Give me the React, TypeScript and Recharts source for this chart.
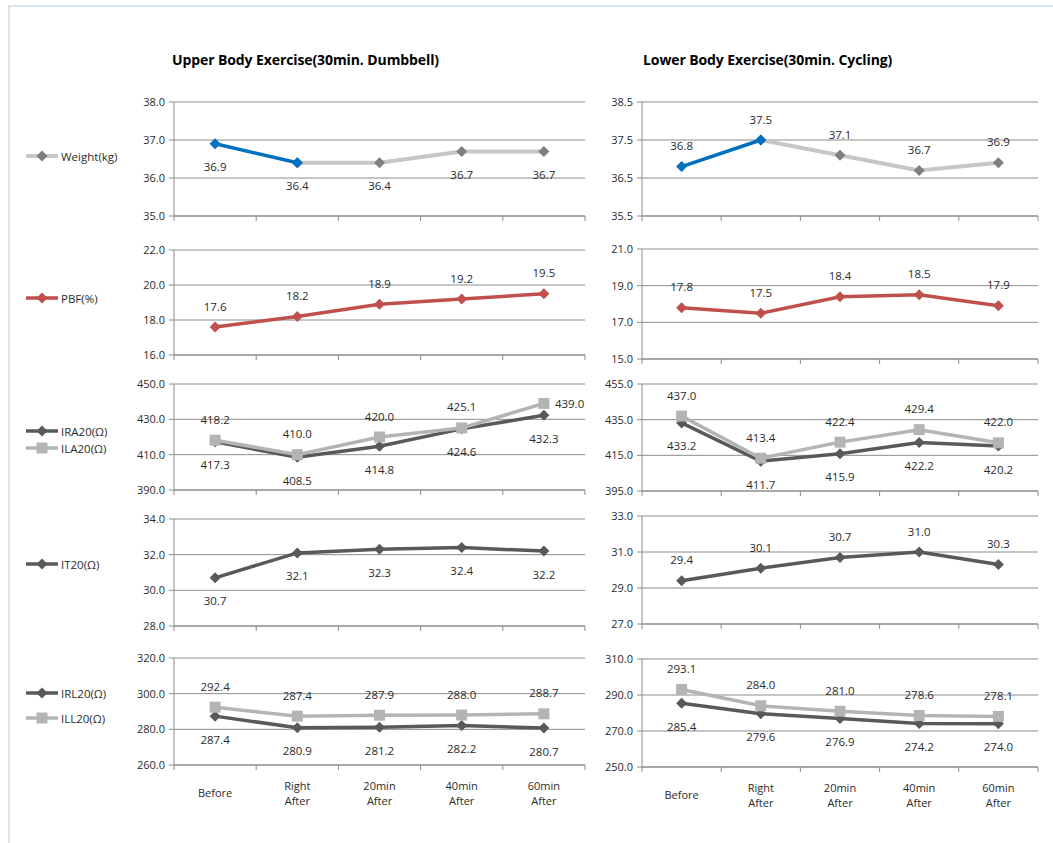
import { CartesianGrid, LabelList, Line, LineChart, XAxis, YAxis } from 'recharts';

const categories = ['Before', 'Right After', '20min After', '40min After', '60min After'];

// Upper body exercise (30 min. dumbbell)
const weightUpper = [36.9, 36.4, 36.4, 36.7, 36.7];
const pbfUpper = [17.6, 18.2, 18.9, 19.2, 19.5];
const ira20Upper = [417.3, 408.5, 414.8, 424.6, 432.3];
const ila20Upper = [418.2, 410.0, 420.0, 425.1, 439.0];
const it20Upper = [30.7, 32.1, 32.3, 32.4, 32.2];
const irl20Upper = [287.4, 280.9, 281.2, 282.2, 280.7];
const ill20Upper = [292.4, 287.4, 287.9, 288.0, 288.7];

// Lower body exercise (30 min. cycling)
const weightLower = [36.8, 37.5, 37.1, 36.7, 36.9];
const pbfLower = [17.8, 17.5, 18.4, 18.5, 17.9];
const ira20Lower = [433.2, 411.7, 415.9, 422.2, 420.2];
const ila20Lower = [437.0, 413.4, 422.4, 429.4, 422.0];
const it20Lower = [29.4, 30.1, 30.7, 31.0, 30.3];
const irl20Lower = [285.4, 279.6, 276.9, 274.2, 274.0];
const ill20Lower = [293.1, 284.0, 281.0, 278.6, 278.1];

// y-axis ticks per row
const weightTicksUpper = [35, 36, 37, 38];
const pbfTicksUpper = [16, 18, 20, 22];
const armTicksUpper = [390, 410, 430, 450];
const trunkTicksUpper = [28, 30, 32, 34];
const legTicksUpper = [260, 280, 300, 320];
const weightTicksLower = [35.5, 36.5, 37.5, 38.5];
const pbfTicksLower = [15, 17, 19, 21];
const armTicksLower = [395, 415, 435, 455];
const trunkTicksLower = [27, 29, 31, 33];
const legTicksLower = [250, 270, 290, 310];

const FONT = '"Open Sans", "Noto Sans", sans-serif';
const GRID = '#8c8c8c';
const TEXT = '#2b2b2b';

const BLUE = '#0070c0';
const RED = '#c0504d';
const DARK = '#595959';
const LIGHT = '#b4b4b4';
const WEIGHT_LINE = '#c6c6c6';
const WEIGHT_MARK = '#7f7f7f';

type Shape = 'diamond' | 'square';
type LabelPos = 'top' | 'bottom' | 'right' | null;

interface Series {
  values: (number | null)[];
  color: string;
  marker: string;
  shape: Shape;
  width: number;
  labels: LabelPos[];
}

const all = (p: LabelPos): LabelPos[] => categories.map(() => p);

const Marker = ({ cx, cy, shape, fill }: { cx: number; cy: number; shape: Shape; fill: string }) => {
  if (shape === 'square') {
    return <rect x={cx - 5.5} y={cy - 5.5} width={11} height={11} fill={fill} />;
  }
  const r = 5.5;
  return (
    <polygon
      points={`${cx},${cy - r} ${cx + r},${cy} ${cx},${cy + r} ${cx - r},${cy}`}
      fill={fill}
    />
  );
};

const Panel = ({
  left,
  top,
  width,
  height,
  ticks,
  series,
  showCategories,
}: {
  left: number;
  top: number;
  width: number;
  height: number;
  ticks: number[];
  series: Series[];
  showCategories?: boolean;
}) => {
  const axisW = 50;
  const mTop = 12;
  const xH = showCategories ? 50 : 8;
  // half a category band, so points sit between the boundary tick marks
  const half = width / categories.length / 2;
  const data = categories.map((c, i) => {
    const row: Record<string, string | number | null> = { name: c };
    series.forEach((s, k) => {
      row['s' + k] = s.values[i];
    });
    return row;
  });

  const renderTick = (p: any) => {
    const { x, y, index, payload } = p;
    const lines = String(payload.value).split(' ');
    return (
      <g key={`t-${index}`}>
        <line x1={x - half} y1={y} x2={x - half} y2={y + 5} stroke={GRID} />
        {index === categories.length - 1 && (
          <line x1={x + half} y1={y} x2={x + half} y2={y + 5} stroke={GRID} />
        )}
        {showCategories &&
          lines.map((t, k) => (
            <text
              key={k}
              x={x}
              y={y + (lines.length === 1 ? 27 : 20 + k * 15)}
              textAnchor='middle'
              dominantBaseline='central'
              fontSize={11}
              fontFamily={FONT}
              fill={TEXT}
            >
              {t}
            </text>
          ))}
      </g>
    );
  };

  const labelRenderer = (s: Series) => (p: any) => {
    const vb = p.viewBox || {};
    const x = p.x ?? vb.x;
    const y = p.y ?? vb.y;
    const pos = s.labels[p.index];
    if (p.value == null || pos == null || x == null || y == null) return null;
    let lx = x;
    let ly = y;
    let anchor: 'middle' | 'start' = 'middle';
    if (pos === 'top') ly = y - 21;
    if (pos === 'bottom') ly = y + 23;
    if (pos === 'right') {
      lx = x + 11;
      anchor = 'start';
    }
    return (
      <text
        key={`l-${p.index}`}
        x={lx}
        y={ly}
        textAnchor={anchor}
        dominantBaseline='central'
        fontSize={11.5}
        fontFamily={FONT}
        fill={TEXT}
      >
        {Number(p.value).toFixed(1)}
      </text>
    );
  };

  return (
    <div style={{ position: 'absolute', left: left - axisW, top: top - mTop }}>
      <LineChart
        width={axisW + width + 12}
        height={mTop + height + xH}
        data={data}
        margin={{ top: mTop, right: 12, bottom: 0, left: 0 }}
      >
        <CartesianGrid vertical={false} stroke={GRID} />
        <XAxis
          dataKey='name'
          height={xH}
          interval={0}
          padding={{ left: half, right: half }}
          tickLine={false}
          tickSize={0}
          tickMargin={0}
          axisLine={{ stroke: GRID }}
          tick={renderTick}
        />
        <YAxis
          width={axisW}
          domain={[ticks[0], ticks[ticks.length - 1]]}
          ticks={ticks}
          interval={0}
          tickSize={5}
          tickMargin={4}
          axisLine={{ stroke: GRID }}
          tickLine={{ stroke: GRID }}
          tick={{ fill: TEXT, fontSize: 11, fontFamily: FONT }}
          tickFormatter={(v: number) => v.toFixed(1)}
        />
        {series.map((s, k) => (
          <Line
            key={k}
            dataKey={'s' + k}
            stroke={s.color}
            strokeWidth={s.width}
            isAnimationActive={false}
            connectNulls={false}
            activeDot={false}
            dot={(d: any) =>
              d.cy == null || d.value == null ? (
                <g key={`d-${k}-${d.index}`} />
              ) : (
                <Marker key={`d-${k}-${d.index}`} cx={d.cx} cy={d.cy} shape={s.shape} fill={s.marker} />
              )
            }
          >
            <LabelList dataKey={'s' + k} content={labelRenderer(s)} />
          </Line>
        ))}
      </LineChart>
    </div>
  );
};

const LegendItem = ({ y, label, color, marker, shape, width }: { y: number; label: string; color: string; marker: string; shape: Shape; width: number }) => (
  <div style={{ position: 'absolute', left: 25, top: y - 9, height: 18, display: 'flex', alignItems: 'center' }}>
    <svg width={34} height={18}>
      <line x1={1} y1={9} x2={33} y2={9} stroke={color} strokeWidth={width} />
      <Marker cx={17} cy={9} shape={shape} fill={marker} />
    </svg>
    <span style={{ fontFamily: FONT, fontSize: 11.5, color: TEXT, marginLeft: 2 }}>{label}</span>
  </div>
);

const split = (v: number[], from: number, to: number) => v.map((x, i) => (i >= from && i <= to ? x : null));

// weight: first interval in blue, the rest in grey
const weightSeries = (v: number[], pos: LabelPos): Series[] => [
  {
    values: split(v, 1, v.length - 1),
    color: WEIGHT_LINE,
    marker: WEIGHT_MARK,
    shape: 'diamond',
    width: 4,
    labels: categories.map((_, i) => (i >= 2 ? pos : null)),
  },
  { values: split(v, 0, 1), color: BLUE, marker: BLUE, shape: 'diamond', width: 3.5, labels: all(pos) },
];

const LEFT = { x: 174, w: 411 };
const RIGHT = { x: 642, w: 396 };

const titleStyle = {
  position: 'absolute' as const,
  top: 50,
  fontFamily: FONT,
  fontWeight: 700,
  fontSize: 14,
  letterSpacing: -0.1,
  color: '#000',
};

export default function App() {
  return (
    <div style={{ position: 'absolute', left: 0, top: 0, width: 1053, height: 843, background: '#fff', overflow: 'hidden' }}>
      <div
        style={{
          position: 'absolute',
          left: 8,
          top: 5,
          width: 1053,
          height: 850,
          borderTop: '2px solid #dbe5f1',
          borderLeft: '2px solid #dbe5f1',
        }}
      />
      <div style={{ ...titleStyle, left: 172 }}>Upper Body Exercise(30min. Dumbbell)</div>
      <div style={{ ...titleStyle, left: 643 }}>Lower Body Exercise(30min. Cycling)</div>

      <LegendItem y={156} label='Weight(kg)' color={WEIGHT_LINE} marker={WEIGHT_MARK} shape='diamond' width={4} />
      <LegendItem y={298} label='PBF(%)' color={RED} marker={RED} shape='diamond' width={3.5} />
      <LegendItem y={431} label='IRA20(Ω)' color={DARK} marker={DARK} shape='diamond' width={3.5} />
      <LegendItem y={448} label='ILA20(Ω)' color={LIGHT} marker={LIGHT} shape='square' width={3.5} />
      <LegendItem y={564} label='IT20(Ω)' color={DARK} marker={DARK} shape='diamond' width={3.5} />
      <LegendItem y={693} label='IRL20(Ω)' color={DARK} marker={DARK} shape='diamond' width={3.5} />
      <LegendItem y={718} label='ILL20(Ω)' color={LIGHT} marker={LIGHT} shape='square' width={3.5} />

      {/* upper body column */}
      <Panel left={LEFT.x} width={LEFT.w} top={102} height={114} ticks={weightTicksUpper} series={weightSeries(weightUpper, 'bottom')} />
      <Panel
        left={LEFT.x}
        width={LEFT.w}
        top={250}
        height={105}
        ticks={pbfTicksUpper}
        series={[{ values: pbfUpper, color: RED, marker: RED, shape: 'diamond', width: 3.5, labels: all('top') }]}
      />
      <Panel
        left={LEFT.x}
        width={LEFT.w}
        top={384}
        height={106}
        ticks={armTicksUpper}
        series={[
          { values: ira20Upper, color: DARK, marker: DARK, shape: 'diamond', width: 3.5, labels: all('bottom') },
          { values: ila20Upper, color: LIGHT, marker: LIGHT, shape: 'square', width: 3.5, labels: ['top', 'top', 'top', 'top', 'right'] },
        ]}
      />
      <Panel
        left={LEFT.x}
        width={LEFT.w}
        top={519}
        height={107}
        ticks={trunkTicksUpper}
        series={[{ values: it20Upper, color: DARK, marker: DARK, shape: 'diamond', width: 3.5, labels: all('bottom') }]}
      />
      <Panel
        left={LEFT.x}
        width={LEFT.w}
        top={658}
        height={107}
        ticks={legTicksUpper}
        showCategories
        series={[
          { values: irl20Upper, color: DARK, marker: DARK, shape: 'diamond', width: 3.5, labels: all('bottom') },
          { values: ill20Upper, color: LIGHT, marker: LIGHT, shape: 'square', width: 3.5, labels: all('top') },
        ]}
      />

      {/* lower body column */}
      <Panel left={RIGHT.x} width={RIGHT.w} top={102} height={114} ticks={weightTicksLower} series={weightSeries(weightLower, 'top')} />
      <Panel
        left={RIGHT.x}
        width={RIGHT.w}
        top={249}
        height={110}
        ticks={pbfTicksLower}
        series={[{ values: pbfLower, color: RED, marker: RED, shape: 'diamond', width: 3.5, labels: all('top') }]}
      />
      <Panel
        left={RIGHT.x}
        width={RIGHT.w}
        top={384}
        height={107}
        ticks={armTicksLower}
        series={[
          { values: ira20Lower, color: DARK, marker: DARK, shape: 'diamond', width: 3.5, labels: all('bottom') },
          { values: ila20Lower, color: LIGHT, marker: LIGHT, shape: 'square', width: 3.5, labels: all('top') },
        ]}
      />
      <Panel
        left={RIGHT.x}
        width={RIGHT.w}
        top={516}
        height={108}
        ticks={trunkTicksLower}
        series={[{ values: it20Lower, color: DARK, marker: DARK, shape: 'diamond', width: 3.5, labels: all('top') }]}
      />
      <Panel
        left={RIGHT.x}
        width={RIGHT.w}
        top={659}
        height={108}
        ticks={legTicksLower}
        showCategories
        series={[
          { values: irl20Lower, color: DARK, marker: DARK, shape: 'diamond', width: 3.5, labels: all('bottom') },
          { values: ill20Lower, color: LIGHT, marker: LIGHT, shape: 'square', width: 3.5, labels: all('top') },
        ]}
      />
    </div>
  );
}
